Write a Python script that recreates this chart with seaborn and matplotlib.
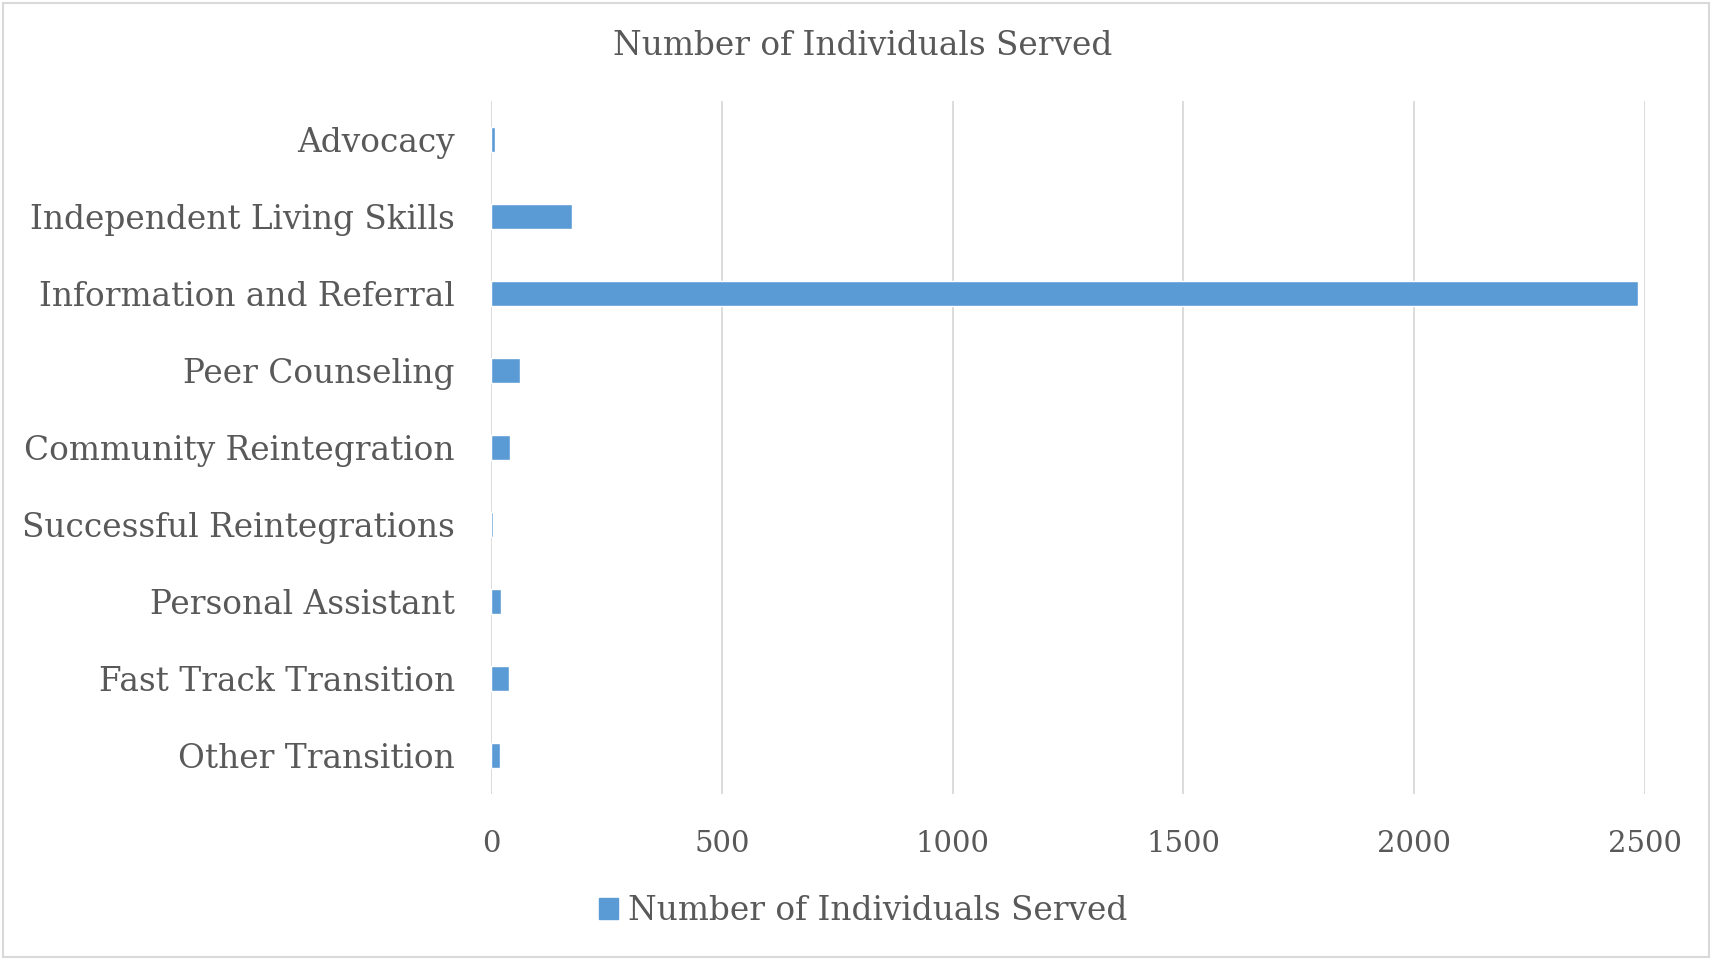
import matplotlib
matplotlib.use("Agg")
import matplotlib.pyplot as plt
import seaborn as sns
import pandas as pd
from matplotlib.patches import Rectangle, Patch

categories = ["Advocacy", "Independent Living Skills", "Information and Referral",
              "Peer Counseling", "Community Reintegration", "Successful Reintegrations",
              "Personal Assistant", "Fast Track Transition", "Other Transition"]
values = [8, 176, 2485, 62, 41, 5, 21, 38, 20]
series_name = "Number of Individuals Served"
xticks = [0, 500, 1000, 1500, 2000, 2500]

sns.set_theme(style="white")
plt.rcParams['font.family'] = ['DejaVu Serif']

text_color = "#595959"
bar_color = "#5B9BD5"
fs = 23.6
fs_x = 21

df = pd.DataFrame({"category": categories, "value": values})

fig = plt.figure(figsize=(17.12, 9.6), dpi=100)
ax = fig.add_axes([491/1712, 1 - 794/960, (1645-491)/1712, (794-101)/960])

sns.barplot(data=df, x="value", y="category", order=categories, color=bar_color,
            width=0.33, saturation=1, ax=ax, orient="h")

ax.set_xlim(0, 2500)
ax.set_ylim(len(categories) - 0.5, -0.5)
ax.set_xticks(xticks)
ax.set_xticklabels([str(t) for t in xticks])
ax.grid(axis="x", color="#D9D9D9", linewidth=1.3)
ax.set_axisbelow(True)
for s in ax.spines.values():
    s.set_visible(False)
ax.set_xlabel("")
ax.set_ylabel("")
ax.tick_params(axis="y", labelsize=fs, colors=text_color, length=0, pad=26)
ax.tick_params(axis="x", labelsize=fs_x, colors=text_color, length=0, pad=26)

fig.text(863/1712, 1 - 46/960, series_name, ha="center", va="center",
         fontsize=fs, color=text_color)

fig.legend(handles=[Patch(color=bar_color, label=series_name)],
           loc="center", bbox_to_anchor=(863/1712, 1 - 911/960), frameon=False,
           fontsize=fs, labelcolor=text_color, handlelength=0.6, handleheight=0.6,
           handletextpad=0.3)

fig.patches.append(Rectangle((3/1712, 3/960), 1 - 6/1712, 1 - 6/960,
                             transform=fig.transFigure, fill=False,
                             edgecolor="#D9D9D9", linewidth=1.5))

fig.savefig("out.png", dpi=100)
